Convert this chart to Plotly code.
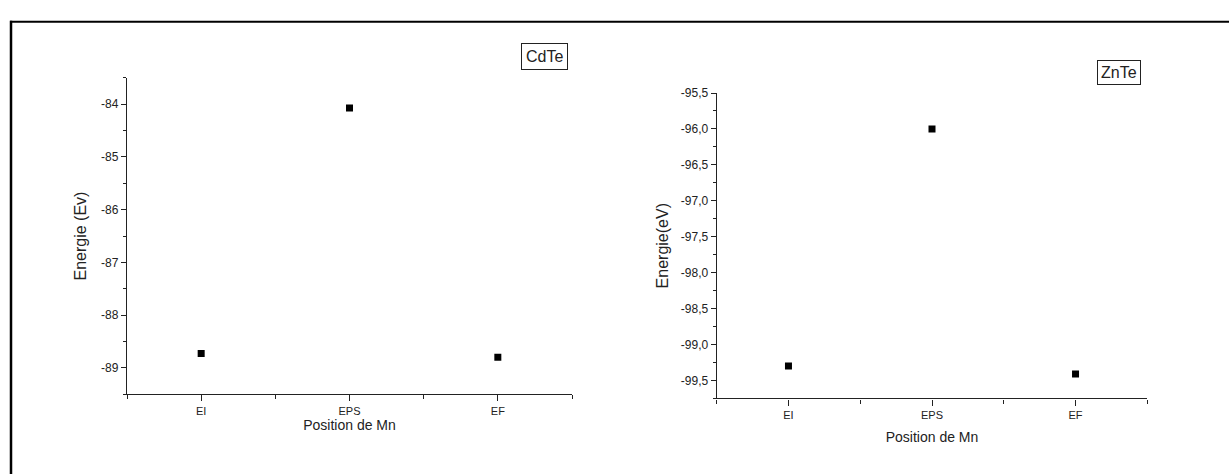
import plotly.graph_objects as go

# ---- data ----
positions = ["EI", "EPS", "EF"]
cdte_energy = [-88.73, -84.07, -88.80]
znte_energy = [-99.30, -96.00, -99.41]

cdte_yticks = [-89, -88, -87, -86, -85, -84]
cdte_yticktext = ["-89", "-88", "-87", "-86", "-85", "-84"]
znte_yticks = [-99.5, -99.0, -98.5, -98.0, -97.5, -97.0, -96.5, -96.0, -95.5]
znte_yticktext = ["-99,5", "-99,0", "-98,5", "-98,0", "-97,5", "-97,0", "-96,5", "-96,0", "-95,5"]

W, H = 1229, 474
x_idx = list(range(1, len(positions) + 1))
x_minor = [i - 0.5 for i in x_idx] + [x_idx[-1] + 0.5]

def px_x(a, b):
    return [a / W, b / W]

def px_y(top, bottom):
    return [(H - bottom) / H, (H - top) / H]

FONT = "Liberation Sans, Arial, sans-serif"
AXC = "#222222"

fig = go.Figure()
fig.add_trace(go.Scatter(x=x_idx, y=cdte_energy, mode="markers",
                         marker=dict(symbol="square", size=7, color="black"),
                         xaxis="x", yaxis="y", showlegend=False))
fig.add_trace(go.Scatter(x=x_idx, y=znte_energy, mode="markers",
                         marker=dict(symbol="square", size=7, color="black"),
                         xaxis="x2", yaxis="y2", showlegend=False))

def xaxis_cfg(standoff):
    return dict(range=[0.5, 3.5], tickvals=x_idx, ticktext=positions,
                ticks="outside", ticklen=6, tickwidth=1.3, tickcolor=AXC,
                showline=True, linecolor=AXC, linewidth=1.3, showgrid=False,
                zeroline=False, tickfont=dict(size=11, color="#222"),
                minor=dict(tickvals=x_minor, ticks="outside", ticklen=4,
                           tickwidth=1.3, tickcolor=AXC, showgrid=False),
                title=dict(text="Position de Mn", font=dict(size=14, color="#222"),
                           standoff=standoff))

common_y = dict(ticks="outside", ticklen=5, tickwidth=1.3, tickcolor=AXC,
                showline=True, linecolor=AXC, linewidth=1.3, showgrid=False,
                zeroline=False, tickfont=dict(size=12, color="#222"))

fig.update_layout(
    width=W, height=H,
    margin=dict(l=0, r=0, t=0, b=0),
    paper_bgcolor="white", plot_bgcolor="white",
    font=dict(family=FONT, color="#222"),
    xaxis=dict(domain=px_x(127, 572), anchor="y", **xaxis_cfg(1)),
    yaxis=dict(domain=px_y(72, 393), anchor="x", range=[-89.5, -83.5],
               tickvals=cdte_yticks, ticktext=cdte_yticktext,
               minor=dict(dtick=0.5, tick0=-89.5, ticks="outside", ticklen=3,
                          tickwidth=1.3, tickcolor=AXC, showgrid=False),
               title=dict(text="Energie (Ev)", font=dict(size=16, color="#222"), standoff=10),
               **common_y),
    xaxis2=dict(domain=px_x(716.7, 1147.3), anchor="y2", **xaxis_cfg(12)),
    yaxis2=dict(domain=px_y(87.3, 397.3), anchor="x2", range=[-99.75, -95.5],
                tickvals=znte_yticks, ticktext=znte_yticktext,
                minor=dict(dtick=0.25, tick0=-99.75, ticks="outside", ticklen=3,
                           tickwidth=1.3, tickcolor=AXC, showgrid=False),
                title=dict(text="Energie(eV)", font=dict(size=16, color="#222"), standoff=8),
                **common_y),
    annotations=[
        dict(text="CdTe", xref="paper", yref="paper", x=544 / W, y=(H - 50) / H,
             xanchor="center", yanchor="middle",
             showarrow=False, font=dict(size=16, color="#222"),
             bordercolor="#222", borderwidth=1, borderpad=4, bgcolor="white"),
        dict(text="ZnTe", xref="paper", yref="paper", x=1119 / W, y=(H - 66.5) / H,
             xanchor="center", yanchor="middle",
             showarrow=False, font=dict(size=16, color="#222"),
             bordercolor="#222", borderwidth=1, borderpad=3, bgcolor="white"),
    ],
    shapes=[
        dict(type="line", xref="paper", yref="paper",
             x0=10 / W, x1=1.0, y0=(H - 15) / H, y1=(H - 15) / H,
             line=dict(color="black", width=2), layer="below"),
        dict(type="line", xref="paper", yref="paper",
             x0=11 / W, x1=11 / W, y0=0, y1=(H - 14) / H,
             line=dict(color="black", width=2.5), layer="below"),
    ],
)

fig.write_html("out.html")
